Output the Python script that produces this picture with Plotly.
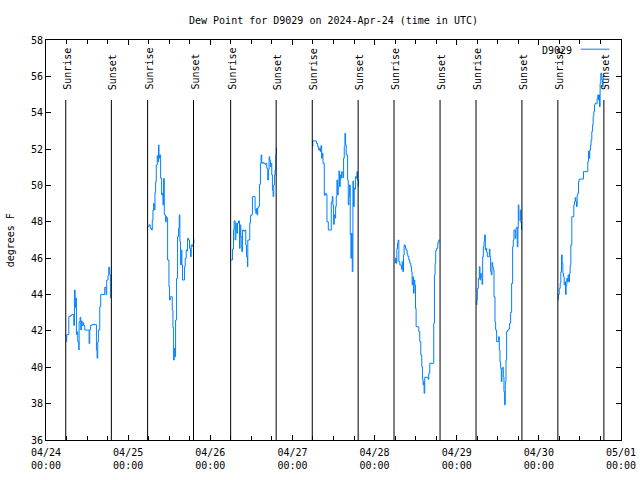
import pandas as pd
import plotly.graph_objects as go

# ---------------- data ----------------
days = ["2024-04-24", "2024-04-25", "2024-04-26", "2024-04-27",
        "2024-04-28", "2024-04-29", "2024-04-30"]
sunrise_hours = [5.77, 5.69, 5.95, 5.80, 5.68, 5.64, 5.55]
sunset_hours = [19.10, 19.10, 19.25, 19.20, 19.13, 19.05, 19.00]

d1_h = [5.98, 6.05, 6.66, 7.14, 7.5, 8.12, 8.31, 8.51, 8.70, 8.89, 9.09, 9.28, 9.57, 9.67,
        9.96, 10.16, 10.35, 10.55, 10.84, 11.03, 11.32, 12.59, 12.78, 12.98, 13.46, 14.73,
        14.92, 15.11, 15.31, 15.70, 15.99, 17.16, 17.55, 17.74, 18.13, 18.32, 18.62, 18.81]
d1_v = [41.4, 41.8, 42.8, 42.85, 42.9, 42.3, 44.25, 43.3, 43.8, 41.8, 41.95, 41.4, 40.95, 42.5,
        42.75, 42.05, 42.55, 42.3, 42.45, 42.3, 42.05, 41.3, 42.05, 42.3, 42.35, 40.95,
        40.5, 41.4, 42.05, 43.33, 44.0, 44.4, 44.0, 44.8, 45.05, 45.5, 45.1, 43.8]

d2_h = [5.89, 6.08, 6.47, 6.86, 7.06, 7.25, 7.44, 7.64, 7.84, 8.03, 8.22, 8.51, 8.71, 8.90,
        9.0, 9.19, 9.49, 9.78, 9.97, 10.17, 10.36, 10.56, 10.94, 11.14, 11.33, 11.53, 11.92,
        12.11, 12.31, 12.69, 12.89, 13.08, 13.28, 13.47, 13.67, 13.86, 14.15, 14.44, 14.73,
        14.93, 15.12, 15.32, 15.51, 15.71, 15.90, 16.39, 16.48, 16.68, 16.97, 17.17, 17.36,
        17.65, 17.94, 18.23, 18.43, 18.72, 19.01, 19.21]
d2_v = [47.73, 47.83, 47.64, 47.55, 48.1, 48.65, 49.02, 48.65, 49.62, 50.2, 51.13, 51.64, 51.3,
        52.23, 51.5, 51.68, 50.4, 49.48, 49.57, 48.93, 50.38, 48.38, 48.0, 48.28, 48.2, 45.9,
        44.43, 43.7, 43.88, 43.88, 43.15, 42.18, 40.4, 41.04, 40.58, 42.6, 44.89, 47.18, 47.64,
        48.38, 46.9, 45.63, 46.45, 45.63, 44.8, 44.8, 45.53, 45.99, 46.45, 46.4, 47.09,
        47.0, 46.54, 46.08, 46.73, 46.65, 46.82, 47.05]

d3_h = [6.0, 6.48, 6.77, 6.97, 7.26, 7.46, 7.75, 7.94, 8.23, 8.53, 8.72, 8.91, 9.21, 9.40,
        9.69, 10.18, 10.37, 10.57, 10.86, 10.96, 11.34, 11.54, 11.73, 12.12, 12.31, 12.90,
        13.09, 13.29, 13.48, 13.68, 13.87, 14.06, 14.36, 14.65, 14.84, 15.04, 15.33, 15.62,
        16.01, 16.30, 16.50, 16.79, 16.98, 17.18, 17.37, 17.57, 17.76, 17.96, 18.15, 18.35,
        18.54, 18.74, 18.93, 19.13, 19.32]
d3_v = [45.9, 46.5, 47.55, 48.05, 47.0, 47.92, 47.37, 47.92, 48.05, 46.54, 47.83, 47.18, 46.36,
        47.55, 47.5, 47.55, 46.73, 46.08, 45.53, 47.0, 47.0, 47.92, 48.34, 48.41, 49.39, 49.39,
        48.65, 48.47, 48.74, 48.38, 48.77, 48.84, 50.06, 51.22, 51.68, 51.22, 51.27, 51.22,
        51.16, 51.22, 50.94, 50.3, 50.85, 51.58, 51.4, 51.04, 51.22, 50.58, 49.75, 49.39,
        50.03, 50.58, 50.85, 51.68, 52.08]

d4_h = [5.91, 5.95, 6.98, 7.37, 7.66, 7.95, 8.14, 8.34, 8.53, 8.73, 8.92, 9.31, 9.60, 9.89,
        10.09, 10.48, 11.26, 11.35, 11.64, 11.84, 12.03, 12.23, 12.42, 12.62, 12.81, 13.0,
        13.20, 13.39, 13.59, 13.78, 13.98, 14.17, 14.37, 14.56, 14.76, 14.95, 15.14, 15.34,
        15.53, 15.73, 16.12, 16.31, 16.51, 16.70, 16.89, 17.09, 17.28, 17.48, 17.67, 17.87,
        18.06, 18.26, 18.45, 18.65, 18.84, 19.04, 19.23]
d4_v = [52.13, 52.45, 52.32, 52.13, 51.95, 52.05, 51.86, 52.19, 51.5, 51.77, 51.22, 49.46, 49.57,
        49.5, 48.0, 47.55, 47.55, 49.1, 49.39, 48.93, 47.86, 48.38, 48.2, 48.84, 49.39, 50.3,
        49.48, 49.94, 50.8, 49.94, 50.58, 50.4, 50.76, 50.7, 50.43, 51.5, 52.13, 52.87,
        52.23, 51.68, 50.3, 48.93, 49.39, 50.03, 47.28, 46.0, 47.37, 45.26, 50.25, 48.84,
        49.85, 49.8, 50.49, 50.4, 50.76, 50.3, 49.94]

d5_h = [5.82, 6.12, 6.31, 6.50, 6.70, 6.89, 7.09, 7.38, 7.67, 7.86, 8.06, 8.25, 8.45, 8.64,
        8.84, 9.03, 9.22, 9.52, 9.71, 10.0, 10.29, 10.59, 10.78, 10.97, 11.17, 11.36, 11.56,
        11.75, 11.95, 12.14, 12.92, 13.21, 13.50, 13.79, 13.99, 14.18, 14.38, 14.47, 14.67,
        15.64, 15.83, 16.13, 17.29, 17.49, 17.68, 17.87, 18.07, 18.46, 18.75, 18.94]
d5_v = [45.75, 46.0, 45.72, 46.54, 46.82, 47.0, 45.81, 45.63, 45.6, 45.39, 45.81, 45.26, 46.18,
        46.73, 46.7, 46.54, 46.45, 46.23, 46.1, 45.9, 45.72, 45.53, 45.26, 44.53, 44.98, 44.07,
        44.8, 44.53, 43.24, 42.23, 41.96, 41.41, 40.68, 40.03, 39.34, 39.03, 39.21, 38.57,
        39.45, 39.34, 39.67, 40.22, 42.42, 45.08, 45.72, 46.41, 46.54, 46.85, 47.0, 47.0]

d6_h = [5.83, 5.9, 6.03, 6.32, 6.61, 6.80, 7.0, 7.19, 7.39, 7.58, 7.78, 7.97, 8.16, 8.36, 8.55,
        8.75, 8.94, 9.33, 9.53, 9.72, 9.91, 10.11, 10.30, 10.50, 10.69, 10.89, 11.18, 11.37,
        11.66, 12.05, 12.25, 12.44, 12.64, 12.83, 13.03, 13.22, 13.41, 13.61, 13.80, 14.0,
        14.19, 14.39, 14.58, 14.87, 15.17, 15.46, 15.75, 16.04, 16.33, 16.53, 16.72, 16.92,
        17.11, 17.30, 17.50, 17.69, 17.89, 17.99, 18.17, 18.58, 18.75, 18.95]
d6_v = [43.43, 43.7, 44.34, 44.89, 45.53, 44.8, 45.17, 44.95, 44.56, 46.08, 46.63, 46.9, 47.28,
        46.45, 46.55, 46.32, 46.08, 46.08, 46.5, 46.08, 45.26, 45.08, 45.77, 45.53, 45.35,
        43.88, 42.5, 42.05, 41.41, 41.41, 41.68, 40.95, 40.31, 39.94, 39.21, 39.94, 40.0,
        39.48, 38.66, 37.93, 39.21, 40.4, 41.96, 42.05, 42.1, 42.42, 43.02, 44.61, 46.63,
        47.0, 47.55, 47.5, 47.09, 47.64, 47.7, 46.63, 47.64, 48.93, 48.1, 48.65, 47.95, 47.55]

d7_h = [5.65, 5.70, 5.94, 6.23, 6.42, 6.62, 6.81, 7.01, 7.20, 7.40, 7.59, 7.79, 7.98, 8.17,
        8.37, 8.56, 8.76, 8.95, 9.15, 9.34, 9.63, 10.21, 10.41, 10.61, 10.80, 10.99, 11.19,
        11.38, 11.58, 11.77, 13.05, 14.30, 14.49, 14.69, 14.88, 15.08, 15.27, 15.47, 15.66,
        15.86, 16.05, 16.25, 16.44, 16.83, 17.02, 17.22, 17.41, 17.61, 17.71, 17.90, 18.10,
        18.39, 18.58, 18.78, 18.97]
d7_v = [43.7, 44.0, 44.34, 44.62, 45.26, 46.18, 45.72, 45.17, 44.98, 44.53, 44.7, 44.01, 44.5,
        44.89, 44.7, 45.08, 44.7, 45.17, 45.63, 46.73, 48.28, 48.93, 49.11, 49.33, 49.11,
        48.84, 49.48, 49.57, 50.2, 50.35, 50.76, 51.3, 51.89, 51.49, 51.95, 52.23, 52.5,
        52.96, 53.33, 53.79, 54.06, 54.43, 54.52, 54.5, 54.8, 54.98, 54.7, 54.98, 54.33,
        55.62, 56.17, 55.8, 55.43, 56.0, 56.1]

day_hours = [d1_h, d2_h, d3_h, d4_h, d5_h, d6_h, d7_h]
day_values = [d1_v, d2_v, d3_v, d4_v, d5_v, d6_v, d7_v]

y_ticks = [36, 38, 40, 42, 44, 46, 48, 50, 52, 54, 56, 58]
x_tick_days = ["2024-04-24", "2024-04-25", "2024-04-26", "2024-04-27",
               "2024-04-28", "2024-04-29", "2024-04-30", "2024-05-01"]
x_tick_text = ["04/24<br>00:00", "04/25<br>00:00", "04/26<br>00:00", "04/27<br>00:00",
               "04/28<br>00:00", "04/29<br>00:00", "04/30<br>00:00", "05/01<br>00:00"]

# ---------------- build ----------------
FONT = "DejaVu Sans Mono"
BLUE = "rgb(0,128,255)"

xs, ys = [], []
for day, hrs, vals in zip(days, day_hours, day_values):
    base = pd.Timestamp(day)
    for h, v in zip(hrs, vals):
        xs.append(base + pd.Timedelta(hours=h))
        ys.append(v)
    xs.append(None)
    ys.append(None)

fig = go.Figure()
fig.add_trace(go.Scatter(x=xs, y=ys, mode="lines", name="D9029",
                         line=dict(color=BLUE, width=1, shape="hv"),
                         connectgaps=False, showlegend=False))

LINE_TOP = 0.85
TEXT_BOTTOM = 0.87
for day, sr, ss in zip(days, sunrise_hours, sunset_hours):
    base = pd.Timestamp(day)
    for h, label in ((sr, "Sunrise"), (ss, "Sunset")):
        t = base + pd.Timedelta(hours=h)
        fig.add_shape(type="line", xref="x", yref="paper", x0=t, x1=t, y0=0, y1=LINE_TOP,
                      line=dict(color="black", width=1))
        fig.add_annotation(x=t, y=TEXT_BOTTOM, xref="x", yref="paper", text=label,
                           textangle=-90, showarrow=False, xanchor="center", yanchor="bottom",
                           xshift=1, font=dict(family=FONT, size=10, color="black"))

# manual legend (text left, sample right)
fig.add_annotation(x=0.919, y=0.975, xref="paper", yref="paper", text="D9029",
                   showarrow=False, xanchor="right", yanchor="middle",
                   font=dict(family=FONT, size=10, color="black"))
fig.add_shape(type="line", xref="paper", yref="paper", x0=0.93, x1=0.98, y0=0.977, y1=0.977,
              line=dict(color=BLUE, width=1))

# y axis title
fig.add_annotation(x=-0.062, y=0.5, xref="paper", yref="paper", text="degrees F",
                   textangle=-90, showarrow=False, xanchor="center", yanchor="middle",
                   font=dict(family=FONT, size=10, color="black"))

fig.update_layout(
    width=640, height=480,
    margin=dict(l=46, r=19, t=40, b=40, autoexpand=False),
    paper_bgcolor="white", plot_bgcolor="white",
    font=dict(family=FONT, size=10, color="black"),
    title=dict(text="Dew Point for D9029 on 2024-Apr-24 (time in UTC)",
               x=0.5, xref="paper", y=1 - 20 / 480, yanchor="middle",
               font=dict(family=FONT, size=10, color="black")),
    showlegend=False,
)
fig.update_xaxes(
    range=[pd.Timestamp(x_tick_days[0]), pd.Timestamp(x_tick_days[-1])],
    tickmode="array", tickvals=[pd.Timestamp(d) for d in x_tick_days], ticktext=x_tick_text,
    ticks="inside", ticklen=5, tickcolor="black", showgrid=False, zeroline=False,
    showline=True, linecolor="black", linewidth=1, mirror="ticks",
    minor=dict(dtick=6 * 3600 * 1000, ticks="inside", ticklen=4, tickcolor="black", showgrid=False),
    tickfont=dict(family=FONT, size=10, color="black"),
    ticklabelstandoff=3,
)
fig.update_yaxes(
    range=[36, 58], tickmode="array", tickvals=y_ticks, ticktext=[str(v) for v in y_ticks],
    ticks="inside", ticklen=5, tickcolor="black", showgrid=False, zeroline=False,
    showline=True, linecolor="black", linewidth=1, mirror="ticks",
    tickfont=dict(family=FONT, size=10, color="black"),
)

fig.write_html("out.html", config={"displayModeBar": False},
               post_script="document.body.style.margin='0px';document.body.style.overflow='hidden';")
